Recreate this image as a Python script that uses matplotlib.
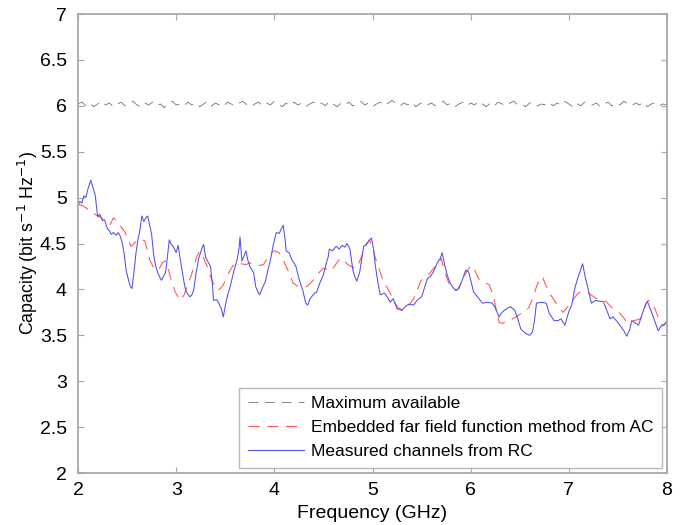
import matplotlib

matplotlib.use("Agg")
import matplotlib.pyplot as plt
import numpy as np
from matplotlib.ticker import FuncFormatter, MultipleLocator

plt.rcParams["font.family"] = ["Liberation Sans", "DejaVu Sans"]
plt.rcParams["lines.scale_dashes"] = False

# Maximum available capacity (noisy, around 6 bit/s/Hz)
max_cap = [
    6.02, 6.04, 6.00, 6.03, 5.99, 6.02, 6.05, 6.01, 6.03, 5.99, 6.02, 6.04, 6.00, 6.02, 6.05,
    6.01, 5.99, 6.03, 6.01, 6.04, 6.00, 6.02, 5.98, 6.03, 6.05, 6.01, 6.02, 6.00, 6.04, 6.01,
    6.03, 5.99, 6.02, 6.05, 6.00, 6.03, 6.01, 5.99, 6.04, 6.02, 6.00, 6.03, 6.05, 6.01, 5.99,
    6.02, 6.04, 6.00, 6.03, 6.01, 6.05, 6.02, 5.99, 6.03, 6.00, 6.04, 6.01, 6.03, 5.99, 6.02,
    6.04, 6.01, 6.03, 6.00, 6.05, 6.02, 5.99, 6.03, 6.01, 6.04, 6.00, 6.02, 6.05, 6.01, 6.03,
    5.99, 6.02, 6.04, 6.00, 6.03, 6.06, 6.02, 6.00, 6.03, 6.01, 6.04, 5.99, 6.02, 6.04, 6.01,
    6.03, 6.00, 6.02, 6.05, 6.01, 6.03, 5.99, 6.02, 6.04, 6.00, 6.03, 6.01, 6.05, 6.02, 5.99,
    6.03, 6.00, 6.04, 6.02, 6.00, 6.03, 6.05, 6.01, 6.02, 5.99, 6.03, 6.04, 6.00, 6.02, 6.01,
    6.04, 6.00, 6.03, 6.01, 6.05, 6.02, 5.99, 6.03, 6.00, 6.04, 6.02, 6.01, 6.03, 5.99, 6.02,
    6.04, 6.00, 6.03, 6.01, 6.05, 6.02, 6.00, 6.03, 6.01, 6.04, 5.99, 6.02, 6.03, 6.00, 6.02,
    6.01,
]
max_freq = np.linspace(2, 8, len(max_cap))

# Embedded far field function method from AC
ac_freq = [
    2.00, 2.05, 2.12, 2.17, 2.22, 2.26, 2.29, 2.33, 2.36, 2.39, 2.44, 2.48, 2.51, 2.54, 2.58,
    2.61, 2.65, 2.68, 2.71, 2.73, 2.77, 2.82, 2.86, 2.89, 2.92, 2.94, 2.97, 2.99, 3.02, 3.04,
    3.08, 3.11, 3.15, 3.18, 3.21, 3.23, 3.26, 3.28, 3.32, 3.35, 3.39, 3.42, 3.45, 3.48, 3.52,
    3.55, 3.58, 3.62, 3.66, 3.71, 3.75, 3.79, 3.84, 3.89, 3.95, 4.00, 4.05, 4.09, 4.12, 4.16,
    4.19, 4.23, 4.27, 4.33, 4.37, 4.41, 4.46, 4.50, 4.54, 4.58, 4.63, 4.67, 4.71, 4.75, 4.80,
    4.84, 4.88, 4.91, 4.94, 4.97, 5.00, 5.03, 5.07, 5.11, 5.15, 5.18, 5.22, 5.26, 5.30, 5.33,
    5.38, 5.42, 5.46, 5.49, 5.53, 5.56, 5.60, 5.64, 5.68, 5.70, 5.73, 5.76, 5.79, 5.83, 5.86,
    5.90, 5.94, 5.97, 6.00, 6.03, 6.07, 6.10, 6.15, 6.19, 6.22, 6.24, 6.27, 6.29, 6.33, 6.36,
    6.41, 6.46, 6.50, 6.55, 6.59, 6.62, 6.65, 6.67, 6.70, 6.73, 6.76, 6.80, 6.84, 6.87, 6.91,
    6.94, 6.98, 7.01, 7.04, 7.08, 7.11, 7.16, 7.20, 7.24, 7.28, 7.33, 7.38, 7.42, 7.45, 7.49,
    7.52, 7.56, 7.59, 7.63, 7.66, 7.70, 7.73, 7.76, 7.78, 7.81, 7.84, 7.88, 7.91, 7.95, 8.00,
]
ac_cap = [
    4.93, 4.91, 4.86, 4.82, 4.79, 4.76, 4.73, 4.71, 4.78, 4.75, 4.68, 4.62, 4.54, 4.47, 4.51,
    4.54, 4.54, 4.53, 4.42, 4.32, 4.24, 4.21, 4.29, 4.31, 4.22, 4.14, 4.04, 3.97, 3.92, 3.88,
    3.94, 4.03, 4.14, 4.25, 4.36, 4.40, 4.41, 4.34, 4.24, 4.14, 4.04, 3.99, 4.01, 4.05, 4.14,
    4.21, 4.26, 4.29, 4.28, 4.27, 4.29, 4.27, 4.26, 4.27, 4.38, 4.42, 4.40, 4.32, 4.25, 4.16,
    4.07, 4.04, 4.03, 4.03, 4.07, 4.12, 4.19, 4.23, 4.22, 4.20, 4.28, 4.34, 4.31, 4.27, 4.24,
    4.23, 4.34, 4.42, 4.50, 4.54, 4.46, 4.34, 4.21, 4.09, 4.02, 3.96, 3.87, 3.80, 3.78, 3.79,
    3.84, 3.90, 4.00, 4.09, 4.13, 4.14, 4.20, 4.25, 4.29, 4.34, 4.21, 4.12, 4.03, 4.00, 3.99,
    4.06, 4.16, 4.21, 4.26, 4.24, 4.14, 4.09, 4.07, 4.05, 3.96, 3.88, 3.74, 3.64, 3.63, 3.65,
    3.67, 3.70, 3.73, 3.75, 3.80, 3.87, 3.96, 4.03, 4.10, 4.14, 4.06, 3.96, 3.90, 3.85, 3.79,
    3.75, 3.80, 3.84, 3.88, 3.94, 3.97, 3.97, 3.96, 3.93, 3.90, 3.88, 3.87, 3.82, 3.79, 3.76,
    3.74, 3.69, 3.64, 3.65, 3.66, 3.67, 3.68, 3.76, 3.83, 3.88, 3.87, 3.78, 3.70, 3.61, 3.64,
]

# Measured channels from RC
rc_freq = [
    2.00, 2.02, 2.04, 2.06, 2.08, 2.10, 2.13, 2.175, 2.20, 2.22, 2.25, 2.27, 2.30, 2.32, 2.34,
    2.36, 2.39, 2.41, 2.43, 2.45, 2.47, 2.49, 2.51, 2.53, 2.55, 2.57, 2.59, 2.61, 2.63, 2.65,
    2.67, 2.69, 2.71, 2.73, 2.75, 2.77, 2.79, 2.81, 2.83, 2.85, 2.87, 2.89, 2.90, 2.93, 2.95,
    2.97, 3.00, 3.02, 3.04, 3.07, 3.09, 3.11, 3.14, 3.16, 3.18, 3.20, 3.23, 3.26, 3.28, 3.30,
    3.33, 3.35, 3.37, 3.38, 3.41, 3.43, 3.46, 3.48, 3.50, 3.52, 3.55, 3.57, 3.59, 3.62, 3.64,
    3.65, 3.67, 3.69, 3.71, 3.73, 3.75, 3.79, 3.81, 3.83, 3.85, 3.88, 3.91, 3.93, 3.96, 3.99,
    4.02, 4.05, 4.07, 4.09, 4.11, 4.12, 4.15, 4.18, 4.20, 4.22, 4.25, 4.27, 4.29, 4.32, 4.34,
    4.36, 4.38, 4.41, 4.43, 4.46, 4.50, 4.53, 4.55, 4.56, 4.59, 4.63, 4.66, 4.69, 4.72, 4.74,
    4.77, 4.80, 4.82, 4.84, 4.87, 4.91, 4.94, 4.97, 4.99, 5.01, 5.03, 5.06, 5.08, 5.12, 5.15,
    5.18, 5.21, 5.25, 5.28, 5.30, 5.33, 5.37, 5.42, 5.46, 5.50, 5.53, 5.56, 5.59, 5.62, 5.66,
    5.69, 5.71, 5.73, 5.76, 5.79, 5.82, 5.85, 5.88, 5.92, 5.95, 5.98, 6.01, 6.03, 6.07, 6.12,
    6.17, 6.22, 6.25, 6.29, 6.31, 6.34, 6.38, 6.41, 6.45, 6.48, 6.51, 6.56, 6.60, 6.63, 6.65,
    6.67, 6.72, 6.77, 6.80, 6.85, 6.89, 6.92, 6.96, 7.00, 7.03, 7.06, 7.09, 7.11, 7.14, 7.17,
    7.20, 7.23, 7.27, 7.32, 7.35, 7.38, 7.42, 7.45, 7.50, 7.56, 7.59, 7.62, 7.64, 7.67, 7.71,
    7.75, 7.78, 7.80, 7.84, 7.88, 7.91, 7.94, 7.97, 8.00,
]
rc_cap = [
    4.92, 4.96, 4.94, 5.02, 5.00, 5.09, 5.19, 5.03, 4.79, 4.82, 4.75, 4.76, 4.66, 4.64, 4.60,
    4.62, 4.59, 4.62, 4.58, 4.51, 4.39, 4.21, 4.12, 4.04, 4.01, 4.19, 4.39, 4.54, 4.64, 4.80,
    4.74, 4.78, 4.80, 4.70, 4.60, 4.38, 4.26, 4.19, 4.14, 4.10, 4.14, 4.18, 4.25, 4.54, 4.49,
    4.47, 4.40, 4.48, 4.34, 4.14, 4.02, 3.96, 3.92, 3.94, 4.00, 4.16, 4.34, 4.44, 4.49, 4.35,
    4.29, 4.25, 4.04, 3.88, 3.89, 3.86, 3.79, 3.70, 3.82, 3.92, 4.03, 4.12, 4.21, 4.32, 4.44,
    4.57, 4.31, 4.36, 4.42, 4.32, 4.25, 4.18, 4.03, 3.98, 3.94, 4.02, 4.09, 4.19, 4.32, 4.49,
    4.62, 4.61, 4.66, 4.70, 4.54, 4.42, 4.40, 4.32, 4.29, 4.25, 4.12, 4.05, 3.99, 3.85, 3.83,
    3.89, 3.92, 3.96, 3.97, 4.06, 4.16, 4.29, 4.36, 4.44, 4.42, 4.47, 4.44, 4.48, 4.46, 4.50,
    4.44, 4.21, 4.14, 4.09, 4.19, 4.47, 4.49, 4.54, 4.56, 4.44, 4.25, 4.04, 3.94, 3.96, 3.92,
    3.86, 3.90, 3.79, 3.78, 3.77, 3.81, 3.84, 3.83, 3.89, 3.92, 4.02, 4.12, 4.14, 4.19, 4.29,
    4.34, 4.40, 4.29, 4.16, 4.07, 4.02, 3.99, 4.01, 4.12, 4.21, 4.19, 4.06, 3.97, 3.92, 3.85,
    3.86, 3.85, 3.80, 3.70, 3.74, 3.77, 3.80, 3.81, 3.77, 3.68, 3.57, 3.52, 3.50, 3.54, 3.66,
    3.85, 3.86, 3.85, 3.74, 3.66, 3.66, 3.68, 3.61, 3.76, 3.83, 4.01, 4.12, 4.18, 4.28, 4.12,
    3.99, 3.85, 3.88, 3.87, 3.87, 3.79, 3.68, 3.70, 3.64, 3.55, 3.49, 3.56, 3.66, 3.64, 3.61,
    3.74, 3.83, 3.87, 3.76, 3.64, 3.55, 3.60, 3.61, 3.66,
]

x_ticks = [2, 3, 4, 5, 6, 7, 8]

FRAME_GRAY = "#a8a8a8"

fig = plt.figure(figsize=(6.94, 5.25), dpi=100)
ax = fig.add_axes([0.1124, 0.0990, 0.8487, 0.8743])

ax.plot(max_freq, max_cap, color="#707070", linewidth=0.6, dashes=(7, 5),
        label="Maximum available")
ax.plot(ac_freq, ac_cap, color="#ff5a5a", linewidth=0.8, dashes=(8, 5.5),
        label="Embedded far field function method from AC")
ax.plot(rc_freq, rc_cap, color="#5050ea", linewidth=0.75,
        label="Measured channels from RC")

ax.set_xlim(2, 8)
ax.set_ylim(2, 7)
ax.set_xticks(x_ticks)
ax.yaxis.set_major_locator(MultipleLocator(0.5))
ax.yaxis.set_major_formatter(FuncFormatter(lambda v, _: f"{v:g}"))
ax.xaxis.set_major_formatter(FuncFormatter(lambda v, _: f"{v:g}"))

for spine in ax.spines.values():
    spine.set_color(FRAME_GRAY)
    spine.set_linewidth(1.3)
ax.tick_params(direction="in", length=4.5, width=0.8, color=FRAME_GRAY,
               top=True, right=True, labelsize=14)
ax.tick_params(axis="x", pad=6.5)
ax.tick_params(axis="y", pad=8)

ax.set_xlabel("Frequency (GHz)", fontsize=14, labelpad=4)
ax.set_ylabel("Capacity (bit s$^{-1}$ Hz$^{-1}$)", fontsize=12.8, labelpad=0)

leg = ax.legend(loc="lower right", fontsize=12.5, frameon=True, fancybox=False,
                edgecolor=FRAME_GRAY, borderaxespad=0.3, handlelength=3.2,
                handletextpad=0.4, labelspacing=0.5, borderpad=0.5)
leg.get_frame().set_linewidth(1.0)

fig.savefig("out.png", dpi=100, facecolor="white")
